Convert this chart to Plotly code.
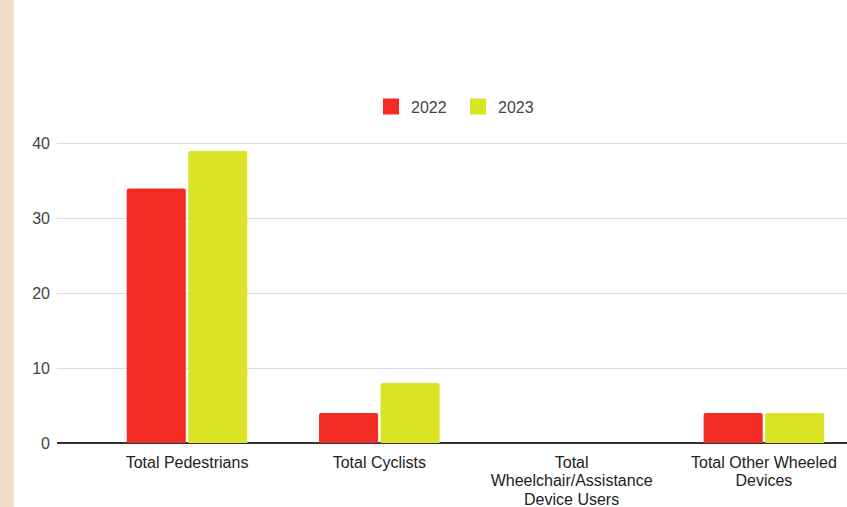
import plotly.graph_objects as go

categories = [
    "Total Pedestrians",
    "Total Cyclists",
    "Total Wheelchair/Assistance Device Users",
    "Total Other Wheeled Devices",
]
# wrapped tick labels, one list of lines per category
tick_lines = [
    ["Total Pedestrians"],
    ["Total Cyclists"],
    ["Total", "Wheelchair/Assistance", "Device Users"],
    ["Total Other Wheeled", "Devices"],
]
series_names = ["2022", "2023"]
values_2022 = [34, 4, 0, 4]
values_2023 = [39, 8, 0, 4]
y_ticks = [0, 10, 20, 30, 40]

RED = "#f42b25"
LIME = "#d9e425"
FONT = "Arial, Liberation Sans, sans-serif"

W, H = 847, 507
L, T, B = 57, 135.5, 64
plot_w = W - L
plot_h = H - T - B

# glyphs at 16px, line pitch driven by the smaller base size of the tick font
tick_text = ["<br>".join(f'<span style="font-size:16px">{ln}</span>' for ln in lines)
             for lines in tick_lines]

fig = go.Figure()
for name, vals, col in zip(series_names, [values_2022, values_2023], [RED, LIME]):
    fig.add_trace(go.Bar(name=name, x=categories, y=vals, showlegend=False,
                         legendgroup=name,
                         marker=dict(color=col, cornerradius=2, line_width=0)))
    # square swatch for the legend entry
    fig.add_trace(go.Scatter(name=name, x=[None], y=[None], mode="markers",
                             legendgroup=name,
                             marker=dict(symbol="square", size=16, color=col,
                                         line_width=0)))

# beige strip along the left edge of the page
fig.add_shape(type="rect", xref="paper", yref="paper",
              x0=-L / plot_w, x1=(14 - L) / plot_w, y0=-2, y1=3,
              fillcolor="#f3dcc7", line_width=0, layer="below")

fig.update_layout(
    width=W, height=H,
    margin=dict(l=L, r=0, t=T, b=B, pad=0, autoexpand=False),
    paper_bgcolor="white", plot_bgcolor="white",
    font=dict(family=FONT, size=16, color="#222"),
    barmode="group", bargap=0.36, bargroupgap=0.04,
    showlegend=True,
    legend=dict(orientation="h", x=(458 - L) / plot_w, xanchor="center",
                y=(443 - 106) / plot_h, yanchor="middle",
                font=dict(size=16, color="#444"), itemwidth=30,
                entrywidth=42, entrywidthmode="pixels",
                traceorder="normal"),
    xaxis=dict(range=[-0.676, 3.432], showgrid=False, zeroline=False,
               showline=False, ticks="", tickfont=dict(size=14.5, color="#222"),
               tickmode="array", tickvals=categories, ticktext=tick_text,
               ticklabelstandoff=9, automargin=False),
    yaxis=dict(range=[0, 41], tickvals=y_ticks, showgrid=True, gridcolor="#dcdcdc",
               gridwidth=1, zeroline=True, zerolinecolor="#333", zerolinewidth=1.5,
               showline=False, ticks="", tickfont=dict(size=16, color="#444"),
               ticklabelstandoff=6, automargin=False),
)

fig.write_html("out.html")
